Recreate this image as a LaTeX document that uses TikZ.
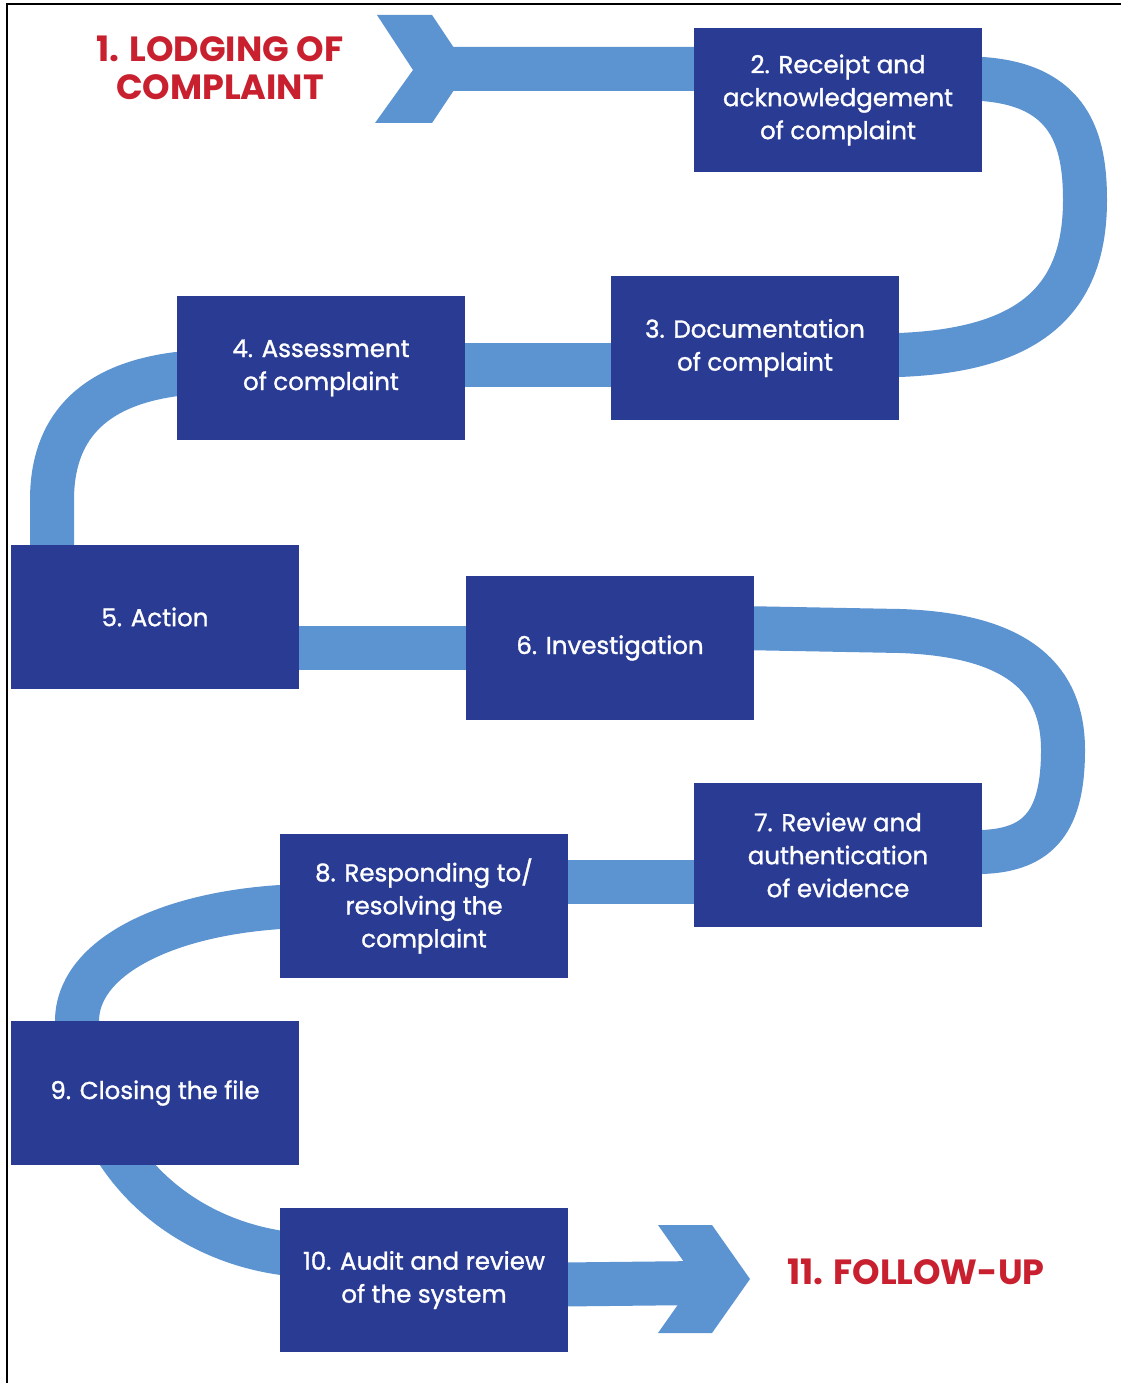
\documentclass[tikz,border=0pt]{standalone}
\usepackage{fontspec}
\setmainfont{Poppins}
\newfontfamily\boxfont[FakeBold=1.2]{Poppins}
\definecolor{boxblue}{HTML}{2A3B94}
\definecolor{ribbonblue}{HTML}{5C93D1}
\definecolor{titlered}{HTML}{C8202E}
\pgfdeclarelayer{paper}
\pgfdeclarelayer{ribbons}
\pgfsetlayers{paper,ribbons,main}
\begin{document}
\begin{tikzpicture}[x=1pt,y=-1pt,
  stepbox/.style={fill=boxblue, minimum width=288pt, minimum height=144pt,
    inner sep=0pt, text=white, align=center,
    font=\boxfont\fontsize{24.5}{33}\selectfont},
  ribbon/.style={draw=ribbonblue, line width=44pt, line join=round},
  arrowshape/.style={fill=ribbonblue},
  redlabel/.style={text=titlered, align=center,
    font=\bfseries\fontsize{35}{38}\selectfont},
  frame/.style={draw=black, line width=2pt}]
\useasboundingbox (0,0) rectangle (1121,1383);
\begin{pgfonlayer}{paper}
  \fill[white] (0,0) rectangle (1121,1383);
  \draw[frame] (7,1383) -- (7,4) -- (1121,4);
\end{pgfonlayer}

% step boxes
\node[stepbox] (b2) at (838,100) {2. Receipt and\\acknowledgement\\of complaint};
\node[stepbox] (b3) at (755,348) {3. Documentation\\of complaint};
\node[stepbox] (b4) at (321,368) {4. Assessment\\of complaint};
\node[stepbox] (b5) at (155,617) {5. Action};
\node[stepbox] (b6) at (610,648) {6. Investigation};
\node[stepbox] (b7) at (838,855) {7. Review and\\authentication\\of evidence};
\node[stepbox] (b8) at (424,906) {8. Responding to/\\resolving the\\complaint};
\node[stepbox] (b9) at (155,1093) {9. Closing the file};
\node[stepbox] (b10) at (424,1280) {10. Audit and review\\of the system};

% red labels
\node[redlabel] (l1) at (220,68) {1. LODGING OF\\COMPLAINT};
\node[redlabel] (l11) at (916,1272) {11. FOLLOW-UP};

% tail and head
\coordinate (tail) at (440,69);
\coordinate (head) at (700,1283);

\begin{pgfonlayer}{ribbons}
  \fill[arrowshape] (377,15) -- (432,15) -- (468,69) -- (432,123) -- (375,123) -- (413,70) -- cycle;
  \fill[arrowshape] (658,1225) -- (712,1225) -- (750,1279) -- (712,1333) -- (658,1333) -- (696,1279) -- cycle;
  % 1 -> 2 -> 3
  \draw[ribbon] (tail) -- (760,69) -- (930,79) -- (982,79)
     .. controls (1070,85) and (1085,140) .. (1085,200)
     .. controls (1085,300) and (1030,350) .. (899,355) -- (b3.center);
  % 3 -> 4
  \draw[ribbon] ([shift={(0,17)}]b3.center) -- ([shift={(0,-3)}]b4.center);
  % 4 -> 5
  \draw[ribbon] (b4.center) -- (177,374)
     .. controls (90,385) and (52,430) .. (52,500) -- (52,600) -- (b5.center);
  % 5 -> 6
  \draw[ribbon] ([shift={(0,31)}]b5.center) -- (b6.center);
  % 6 -> 7
  \draw[ribbon] (b6.center) -- (740,628) -- (900,631)
     .. controls (1020,635) and (1063,680) .. (1063,750)
     .. controls (1063,820) and (1040,850) .. (982,852) -- (b7.center);
  % 7 -> 8
  \draw[ribbon] ([shift={(0,27)}]b7.center) -- ([shift={(0,-24)}]b8.center);
  % 8 -> 9
  \draw[ribbon] (b8.center) -- (280,907)
     .. controls (160,915) and (77,960) .. (77,1021) -- (77,1060) -- (b9.center);
  % 9 -> 10
  \draw[ribbon] (b9.center) -- (105,1130)
     .. controls (140,1200) and (210,1245) .. (290,1254) -- (b10.center);
  % 10 -> 11
  \draw[ribbon] ([shift={(0,6)}]b10.center) -- (head);
\end{pgfonlayer}
\end{tikzpicture}
\end{document}
